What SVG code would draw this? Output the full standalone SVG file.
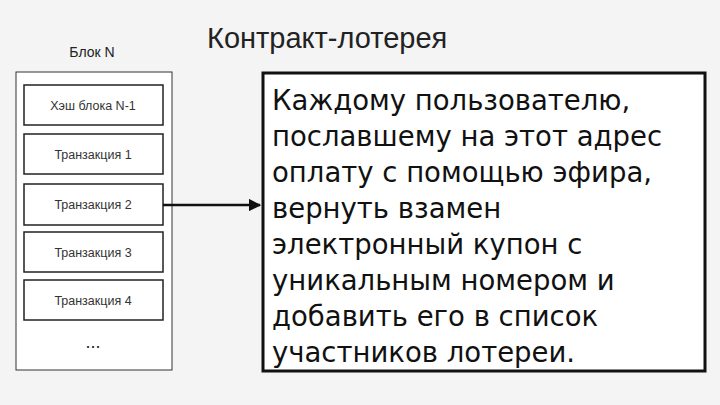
<svg xmlns="http://www.w3.org/2000/svg" width="720" height="405" viewBox="0 0 720 405">
<style>
.t{font-family:"Liberation Sans",Arial,sans-serif;fill:#222}
.s{font-size:12.5px;text-anchor:middle;fill:#333}
.b{fill:#fff;stroke:#222;stroke-width:1.5}
.big{font-family:"DejaVu Sans",sans-serif;font-size:27.5px;fill:#111}
</style>
<defs><marker id="a" viewBox="0 0 10 10" refX="9" refY="5" markerWidth="5" markerHeight="5" orient="auto"><path d="M0,0L10,5L0,10z" fill="#111"/></marker></defs>
<rect width="720" height="405" fill="#f4f4f4"/>
<text class="t" x="92" y="57" font-size="14" text-anchor="middle" fill="#333">Блок N</text>
<text class="t" x="207" y="48" font-size="29" fill="#111">Контракт-лотерея</text>
<g id="block"><rect x="16" y="72" width="156" height="298" fill="#fff" stroke="#333" stroke-width="1"/></g>
<g id="n1"><rect class="b" x="24" y="85" width="139" height="40"/><text class="t s" x="93" y="110">Хэш блока N-1</text></g>
<g id="n2"><rect class="b" x="24" y="134" width="139" height="40"/><text class="t s" x="93" y="159">Транзакция 1</text></g>
<g id="n3"><rect class="b" x="24" y="184" width="139" height="41" stroke-width="3"/><text class="t s" x="93" y="209">Транзакция 2</text></g>
<g id="n4"><rect class="b" x="24" y="232" width="139" height="40"/><text class="t s" x="93" y="257">Транзакция 3</text></g>
<g id="n5"><rect class="b" x="24" y="280" width="139" height="40"/><text class="t s" x="93" y="305">Транзакция 4</text></g>
<text class="t" x="93" y="348" font-size="18" text-anchor="middle">...</text>
<g id="connectors"><line x1="163" y1="205" x2="260" y2="205" stroke="#111" stroke-width="2.5" marker-end="url(#a)"/></g>
<g id="contract"><rect x="263" y="73" width="442" height="298" fill="#fff" stroke="#111" stroke-width="3"/>
<text class="t big" x="272" y="110">Каждому пользователю,</text>
<text class="t big" x="272" y="146">пославшему на этот адрес</text>
<text class="t big" x="272" y="182">оплату с помощью эфира,</text>
<text class="t big" x="272" y="218">вернуть взамен</text>
<text class="t big" x="272" y="254">электронный купон с</text>
<text class="t big" x="272" y="290">уникальным номером и</text>
<text class="t big" x="272" y="326">добавить его в список</text>
<text class="t big" x="272" y="362">участников лотереи.</text></g>
</svg>
